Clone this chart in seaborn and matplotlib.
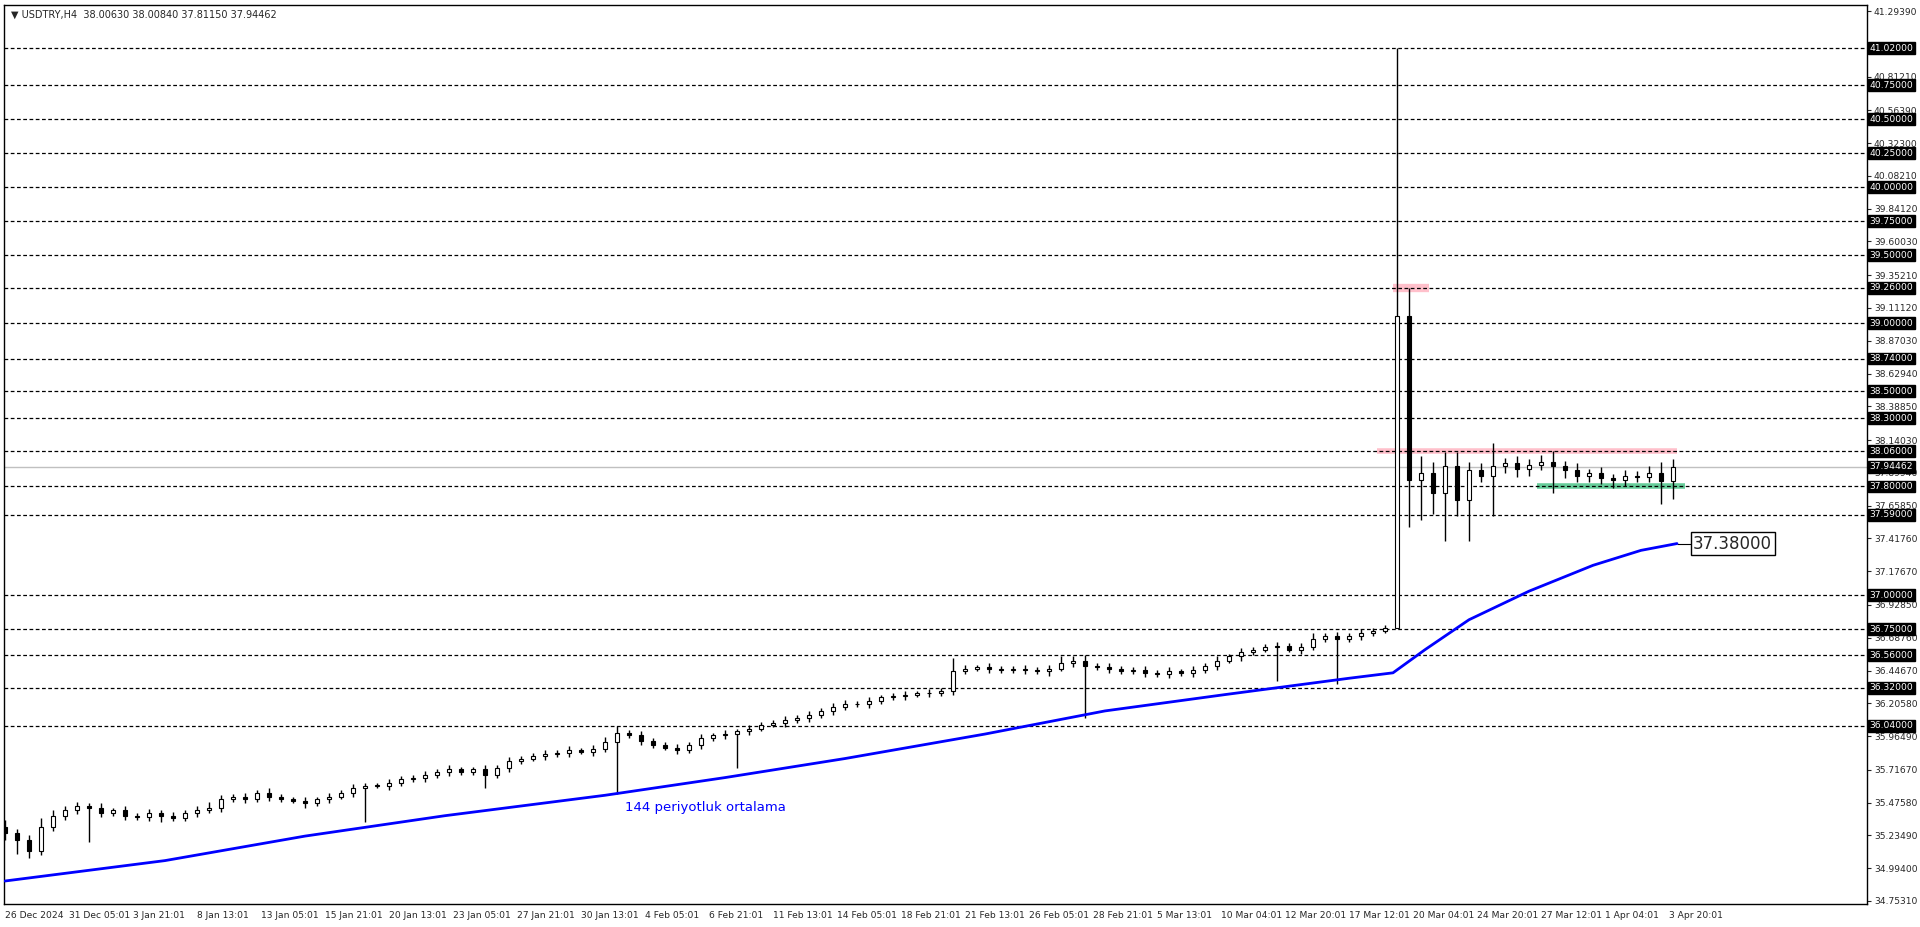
import matplotlib
matplotlib.use("Agg")
import matplotlib.pyplot as plt
import seaborn as sns
import numpy as np
import pandas as pd

sns.set_style("white")
plt.rcParams['font.family'] = ['DejaVu Sans']

# ---- data ----
closes = [35.25, 35.20, 35.12, 35.30, 35.38, 35.42,
          35.45, 35.44, 35.40, 35.42, 35.38,
          35.37, 35.40, 35.38, 35.36, 35.40,
          35.42, 35.44, 35.50, 35.52, 35.50,
          35.55, 35.52, 35.50, 35.49, 35.47,
          35.50, 35.52, 35.55, 35.58, 35.60,
          35.60, 35.62, 35.65, 35.66, 35.68,
          35.70, 35.72, 35.70, 35.72, 35.68,
          35.73, 35.78, 35.80, 35.82, 35.83,
          35.84, 35.86, 35.85, 35.87, 35.92,
          35.99, 35.97, 35.93, 35.90, 35.88,
          35.86, 35.90, 35.95, 35.97, 35.98,
          36.00, 36.02, 36.05, 36.06, 36.08,
          36.10, 36.12, 36.15, 36.18, 36.20,
          36.20, 36.22, 36.25, 36.26, 36.27,
          36.28, 36.28, 36.30, 36.44, 36.46,
          36.47, 36.46, 36.45, 36.46, 36.45,
          36.44, 36.46, 36.50, 36.52, 36.48,
          36.47, 36.46, 36.44, 36.45, 36.43,
          36.42, 36.44, 36.43, 36.45, 36.48,
          36.52, 36.55, 36.58, 36.60, 36.62,
          36.63, 36.60, 36.62, 36.68, 36.70,
          36.68, 36.70, 36.72, 36.74, 36.76,
          39.05, 37.85,
          37.90, 37.75, 37.95, 37.70, 37.92,
          37.88, 37.95, 37.97, 37.93, 37.96,
          37.98, 37.95, 37.92, 37.88, 37.90,
          37.86, 37.85, 37.88, 37.87, 37.90,
          37.84, 37.94462]
up_wick = [0.05, 0.03, 0.04, 0.06, 0.04, 0.03, 0.03, 0.02, 0.03, 0.02, 0.03,
           0.02, 0.03, 0.02, 0.03, 0.02, 0.03, 0.04, 0.03, 0.02, 0.03,
           0.02, 0.03, 0.02, 0.02, 0.03, 0.02, 0.03, 0.02, 0.03, 0.02,
           0.02, 0.03, 0.02, 0.02, 0.03, 0.02, 0.03, 0.02, 0.02, 0.03,
           0.02, 0.03, 0.02, 0.02, 0.03, 0.02, 0.03, 0.02, 0.03, 0.04,
           0.05, 0.02, 0.03, 0.02, 0.02, 0.03, 0.02, 0.03, 0.02, 0.03,
           0.02, 0.03, 0.02, 0.02, 0.03, 0.02, 0.03, 0.02, 0.03, 0.03,
           0.02, 0.03, 0.02, 0.02, 0.03, 0.02, 0.03, 0.02, 0.10, 0.03,
           0.02, 0.03, 0.02, 0.02, 0.03, 0.02, 0.03, 0.05, 0.03, 0.04,
           0.02, 0.03, 0.02, 0.02, 0.03, 0.02, 0.03, 0.02, 0.03, 0.02,
           0.03, 0.02, 0.03, 0.02, 0.02, 0.03, 0.02, 0.03, 0.04, 0.02,
           0.03, 0.02, 0.03, 0.02, 0.02,
           1.97, 0.21,
           0.12, 0.08, 0.10, 0.10, 0.06, 0.05, 0.17, 0.04, 0.05, 0.04,
           0.05, 0.08, 0.04, 0.05, 0.03, 0.04, 0.03, 0.04, 0.03, 0.05,
           0.08, 0.06]
dn_wick = [0.05, 0.10, 0.05, 0.03, 0.03, 0.03, 0.03, 0.25, 0.03, 0.02, 0.03,
           0.02, 0.03, 0.05, 0.02, 0.02, 0.03, 0.02, 0.03, 0.02, 0.03,
           0.02, 0.03, 0.02, 0.02, 0.03, 0.02, 0.03, 0.02, 0.03, 0.25,
           0.02, 0.03, 0.02, 0.02, 0.03, 0.02, 0.03, 0.02, 0.02, 0.10,
           0.02, 0.03, 0.02, 0.02, 0.03, 0.02, 0.03, 0.02, 0.03, 0.02,
           0.38, 0.02, 0.03, 0.02, 0.02, 0.03, 0.02, 0.03, 0.02, 0.03,
           0.25, 0.03, 0.02, 0.02, 0.03, 0.02, 0.03, 0.02, 0.03, 0.02,
           0.02, 0.03, 0.02, 0.02, 0.03, 0.02, 0.03, 0.02, 0.03, 0.02,
           0.02, 0.03, 0.02, 0.02, 0.03, 0.02, 0.03, 0.02, 0.03, 0.38,
           0.02, 0.03, 0.02, 0.02, 0.03, 0.02, 0.03, 0.02, 0.03, 0.02,
           0.03, 0.02, 0.03, 0.02, 0.02, 0.25, 0.02, 0.03, 0.02, 0.02,
           0.33, 0.02, 0.03, 0.02, 0.02,
           0.00, 0.35,
           0.30, 0.15, 0.35, 0.12, 0.30, 0.05, 0.30, 0.05, 0.06, 0.05,
           0.04, 0.20, 0.06, 0.05, 0.05, 0.04, 0.06, 0.05, 0.04, 0.04,
           0.17, 0.13]
bar_step = 3

ma_bar = [0, 40, 75, 110, 150, 180, 210, 245, 275, 305, 336, 347,
          355, 366, 381, 397, 409, 418]
ma_val = [34.90, 35.05, 35.23, 35.38, 35.53, 35.66, 35.80, 35.98, 36.15, 36.27, 36.39, 36.43,
          36.60, 36.82, 37.03, 37.22, 37.33, 37.38]

levels = [41.02, 40.75, 40.50, 40.25, 40.00, 39.75, 39.50, 39.26, 39.00, 38.74,
          38.50, 38.30, 38.06, 37.80, 37.59, 37.00, 36.75, 36.56, 36.32, 36.04]
ytick_vals = [41.29390, 40.81210, 40.56390, 40.32300, 40.08210, 39.84120, 39.60030,
              39.35210, 39.11120, 38.87030, 38.62940, 38.38850, 38.14030, 37.89940,
              37.65850, 37.41760, 37.17670, 36.92850, 36.68760, 36.44670, 36.20580,
              35.96490, 35.71670, 35.47580, 35.23490, 34.99400, 34.75310]
xtick_labels = ["26 Dec 2024", "31 Dec 05:01", "3 Jan 21:01", "8 Jan 13:01", "13 Jan 05:01",
                "15 Jan 21:01", "20 Jan 13:01", "23 Jan 05:01", "27 Jan 21:01", "30 Jan 13:01",
                "4 Feb 05:01", "6 Feb 21:01", "11 Feb 13:01", "14 Feb 05:01", "18 Feb 21:01",
                "21 Feb 13:01", "26 Feb 05:01", "28 Feb 21:01", "5 Mar 13:01", "10 Mar 04:01",
                "12 Mar 20:01", "17 Mar 12:01", "20 Mar 04:01", "24 Mar 20:01", "27 Mar 12:01",
                "1 Apr 04:01", "3 Apr 20:01"]
last_price = 37.94462

# ---- figure ----
W, H = 1920, 927
fs = 6.6
fig = plt.figure(figsize=(19.2, 9.27), dpi=100)
ax = fig.add_axes([4 / W, 1 - 904 / H, (1867 - 4) / W, (904 - 5) / H])
ax.set_xlim(-0.25, 465.5)
ax.set_ylim(34.731, 41.338)

for lv in levels:
    ax.axhline(lv, color="black", lw=0.9, ls=(0, (3, 2)), zorder=1)

# highlight zones
ax.hlines(38.06, 343, 418, color="#ffc0cb", lw=4, zorder=0.5)
ax.hlines(39.26, 347, 356, color="#ffc0cb", lw=6, zorder=0.5)
ax.hlines(37.80, 383, 420, color="#66cc99", lw=4, zorder=0.5)
ax.axhline(last_price, color="#c0c0c0", lw=1, zorder=0.8)

# candles
opens = [closes[0] + 0.05] + closes[:-1]
x = np.arange(len(closes)) * bar_step
for i in range(len(closes)):
    o, c = opens[i], closes[i]
    hi = max(o, c) + up_wick[i]
    lo = min(o, c) - dn_wick[i]
    ax.vlines(x[i], lo, hi, color="black", lw=1, zorder=3)
    b0, b1 = min(o, c), max(o, c)
    ax.bar(x[i], max(b1 - b0, 0.004), bottom=b0, width=1.2,
           color="white" if c >= o else "black", edgecolor="black", lw=0.8, zorder=4)

# moving average
ma_df = pd.DataFrame({"bar": ma_bar, "ma": ma_val})
sns.lineplot(data=ma_df, x="bar", y="ma", ax=ax, color="#0000ff", lw=2, zorder=5)
ax.hlines(37.38, 418, 422, color="black", lw=0.8)
ax.text(422, 37.38, "37.38000", fontsize=12, va="center", ha="left",
        bbox=dict(boxstyle="square,pad=0.15", fc="white", ec="black", lw=1))
ax.text(155, 35.44, "144 periyotluk ortalama", color="#0000ff", fontsize=9.5, ha="left", va="center")

ax.text(0.004, 0.995, "\u25BC USDTRY,H4  38.00630 38.00840 37.81150 37.94462",
        transform=ax.transAxes, fontsize=7, va="top", ha="left")

# axes styling
ax.set_xlabel("")
ax.set_ylabel("")
ax.yaxis.tick_right()
ax.set_yticks(ytick_vals)
ax.set_yticklabels([f"{v:.5f}" for v in ytick_vals], fontsize=fs)
ax.set_xticks(np.arange(len(xtick_labels)) * 16)
ax.set_xticklabels(xtick_labels, fontsize=fs, ha="left")
ax.tick_params(axis="both", length=3, width=0.8, pad=2, direction="out")
for s in ax.spines.values():
    s.set_linewidth(1)
    s.set_color("black")

for lv in levels + [last_price]:
    ax.text(1.0015, lv, f"{lv:.5f}", transform=ax.get_yaxis_transform(), fontsize=fs,
            color="white", va="center", ha="left", zorder=10,
            bbox=dict(boxstyle="square,pad=0.15", fc="black", ec="black"))

fig.savefig("out.png", dpi=100)
